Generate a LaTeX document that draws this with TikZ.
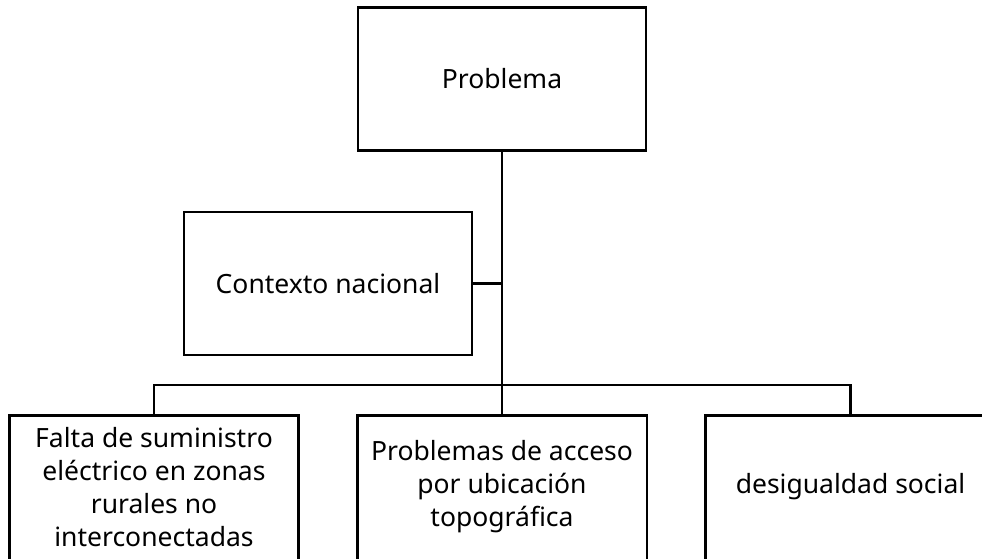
\documentclass[tikz,border=0pt]{standalone}
\usepackage{fontspec}
\setmainfont{Noto Sans}
\begin{document}
\begin{tikzpicture}[x=1pt,y=-1pt,
  box/.style={draw, line width=2.8pt, minimum width=288pt, minimum height=143pt,
    align=center, inner sep=0pt, font=\fontsize{26.5}{33}\selectfont},
  lowbox/.style={box, draw=none, minimum width=287pt, minimum height=141pt},
  frame/.style={line width=2.8pt},
  conn/.style={line width=2.8pt}]
\clip (0,0) rectangle (982,558);
\node[box] (prob) at (502,79) {Problema};
\node[box] (ctx) at (328,283.5) {Contexto nacional};
\node[lowbox, minimum width=286pt] (b1) at (154,487) {Falta de suministro\\eléctrico en zonas\\rurales no\\interconectadas};
\node[lowbox] (b2) at (502,487) {Problemas de acceso\\por ubicación\\topográfica};
\node[lowbox] (b3) at (850.5,487) {desigualdad social};
\foreach \b in {b1,b2,b3}
  \draw[frame] (\b.north west) rectangle ([yshift=-8pt]\b.south east);
\coordinate (bus) at (502,385);
\draw[conn] (prob.south) -- (b2.north);
\draw[conn] (ctx.east) -- (ctx.east -| prob.south);
\draw[conn] (b1.north) |- (bus) -| (b3.north);
\end{tikzpicture}
\end{document}
